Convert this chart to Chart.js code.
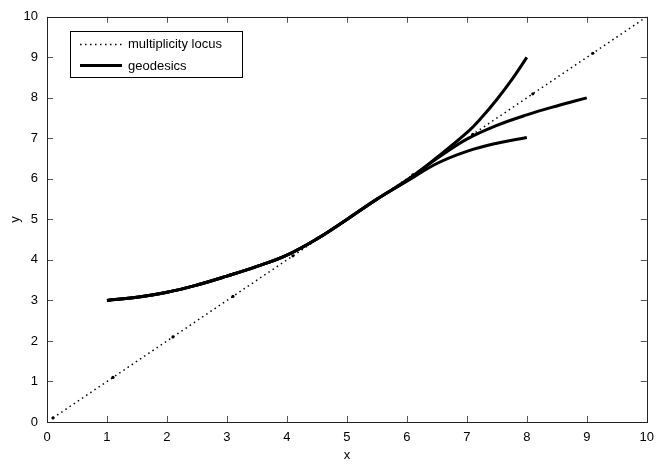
<!DOCTYPE html>
<html>
<head>
<meta charset="utf-8">
<script src="https://cdn.jsdelivr.net/npm/chart.js@4"></script>
<style>
  body { margin: 0; background: #fff; }
  #wrap { width: 662px; height: 465px; }
</style>
</head>
<body>
<div id="wrap"><canvas id="myChart" width="662" height="465"></canvas></div>
<script>
// data
const locusX = [0.1, 1.1, 2.1, 3.1, 4.1, 5.1, 6.1, 7.1, 8.1, 9.1, 10];
const trunkX = [1, 1.5, 2, 2.5, 3, 3.5, 4, 4.5, 5, 5.5];
const trunkY = [3.0, 3.08, 3.2, 3.38, 3.6, 3.84, 4.12, 4.52, 5.0, 5.5];
const upperX = [6, 6.5, 7, 7.25, 7.5, 7.75, 8];
const upperY = [5.97, 6.53, 7.14, 7.52, 7.96, 8.45, 9.0];
const middleX = [6, 6.5, 7, 7.5, 8, 8.5, 9];
const middleY = [5.96, 6.5, 6.98, 7.32, 7.58, 7.8, 8.0];
const lowerX = [6, 6.5, 7, 7.5, 8];
const lowerY = [5.94, 6.38, 6.68, 6.88, 7.02];
const tickVals = [0, 1, 2, 3, 4, 5, 6, 7, 8, 9, 10];

const FONT = '"Liberation Sans", Arial, Helvetica, sans-serif';

function pts(xs, ys) {
    return xs.map((x, i) => ({ x: x, y: ys[i] }));
}
function geodesic(bx, by) {
    return pts(trunkX.concat(bx), trunkY.concat(by));
}

const geoStyle = {
    borderColor: '#000',
    borderWidth: 3,
    pointRadius: 0,
    showLine: true,
    tension: 0.4,
    borderCapStyle: 'butt'
};

// inward ticks on all four sides + box, MATLAB style
const boxTicks = {
    id: 'boxTicks',
    afterDraw(chart) {
        const c = chart.ctx;
        const a = chart.chartArea;
        const xs = chart.scales.x, ys = chart.scales.y;
        c.save();
        c.strokeStyle = '#555';
        c.lineWidth = 1;
        tickVals.forEach(v => {
            const px = Math.round(xs.getPixelForValue(v)) + 0.5;
            const py = Math.round(ys.getPixelForValue(v)) + 0.5;
            c.beginPath();
            c.moveTo(px, a.bottom); c.lineTo(px, a.bottom - 6);
            c.moveTo(px, a.top); c.lineTo(px, a.top + 6);
            c.moveTo(a.left, py); c.lineTo(a.left + 6, py);
            c.moveTo(a.right, py); c.lineTo(a.right - 6, py);
            c.stroke();
        });
        c.strokeStyle = '#222';
        c.strokeRect(Math.round(a.left) + 0.5, Math.round(a.top) + 0.5,
            Math.round(a.right - a.left), Math.round(a.bottom - a.top));

        // legend box
        const lx = 70.5, ly = 31.5, lw = 172, lh = 46;
        c.fillStyle = '#fff';
        c.fillRect(lx, ly, lw, lh);
        c.strokeStyle = '#000';
        c.strokeRect(lx, ly, lw, lh);
        c.lineWidth = 1.5;
        c.setLineDash([1.5, 3.5]);
        c.beginPath();
        c.moveTo(80, 44.5); c.lineTo(122, 44.5);
        c.stroke();
        c.setLineDash([]);
        c.lineWidth = 3;
        c.beginPath();
        c.moveTo(80, 65.5); c.lineTo(122, 65.5);
        c.stroke();
        c.fillStyle = '#000';
        c.font = '13px ' + FONT;
        c.textBaseline = 'middle';
        c.fillText(chart.data.datasets[0].label, 128, 44);
        c.fillText(chart.data.datasets[1].label, 128, 66);
        c.restore();
    }
};

const ctx = document.getElementById('myChart');

new Chart(ctx, {
    type: 'scatter',
    data: {
        datasets: [{
            label: 'multiplicity locus',
            data: pts(locusX, locusX),
            borderColor: '#000',
            backgroundColor: '#000',
            borderWidth: 1.5,
            borderDash: [1.5, 3.5],
            showLine: true,
            pointRadius: c => (c.raw && c.raw.x >= 10 ? 0 : 1.6),
            pointBorderWidth: 0
        },
        Object.assign({ label: 'geodesics', data: geodesic(upperX, upperY) }, geoStyle),
        Object.assign({ label: '', data: geodesic(middleX, middleY) }, geoStyle),
        Object.assign({ label: '', data: geodesic(lowerX, lowerY) }, geoStyle)
        ]
    },
    options: {
        responsive: false,
        animation: false,
        layout: { padding: { left: 0, right: 8, top: 14, bottom: 0 } },
        plugins: {
            legend: { display: false },
            tooltip: { enabled: false }
        },
        scales: {
            x: {
                type: 'linear',
                min: 0,
                max: 10,
                afterFit: s => { s.height = 43; },
                afterBuildTicks: s => { s.ticks = tickVals.map(v => ({ value: v })); },
                grid: { display: false, drawTicks: false },
                border: { display: false },
                ticks: { color: '#000', font: { family: FONT, size: 13 }, padding: 8, maxRotation: 0 },
                title: { display: true, text: 'x', color: '#000', font: { family: FONT, size: 13 }, padding: { top: 0, bottom: 2 } }
            },
            y: {
                type: 'linear',
                min: 0,
                max: 10,
                afterFit: s => { s.width = 47; },
                afterBuildTicks: s => { s.ticks = tickVals.map(v => ({ value: v })); },
                grid: { display: false, drawTicks: false },
                border: { display: false },
                ticks: { color: '#000', font: { family: FONT, size: 13 }, padding: 9 },
                title: { display: true, text: 'y', color: '#000', font: { family: FONT, size: 13 }, padding: { top: 8, bottom: 0 } }
            }
        }
    },
    plugins: [boxTicks]
});
</script>
</body>
</html>
